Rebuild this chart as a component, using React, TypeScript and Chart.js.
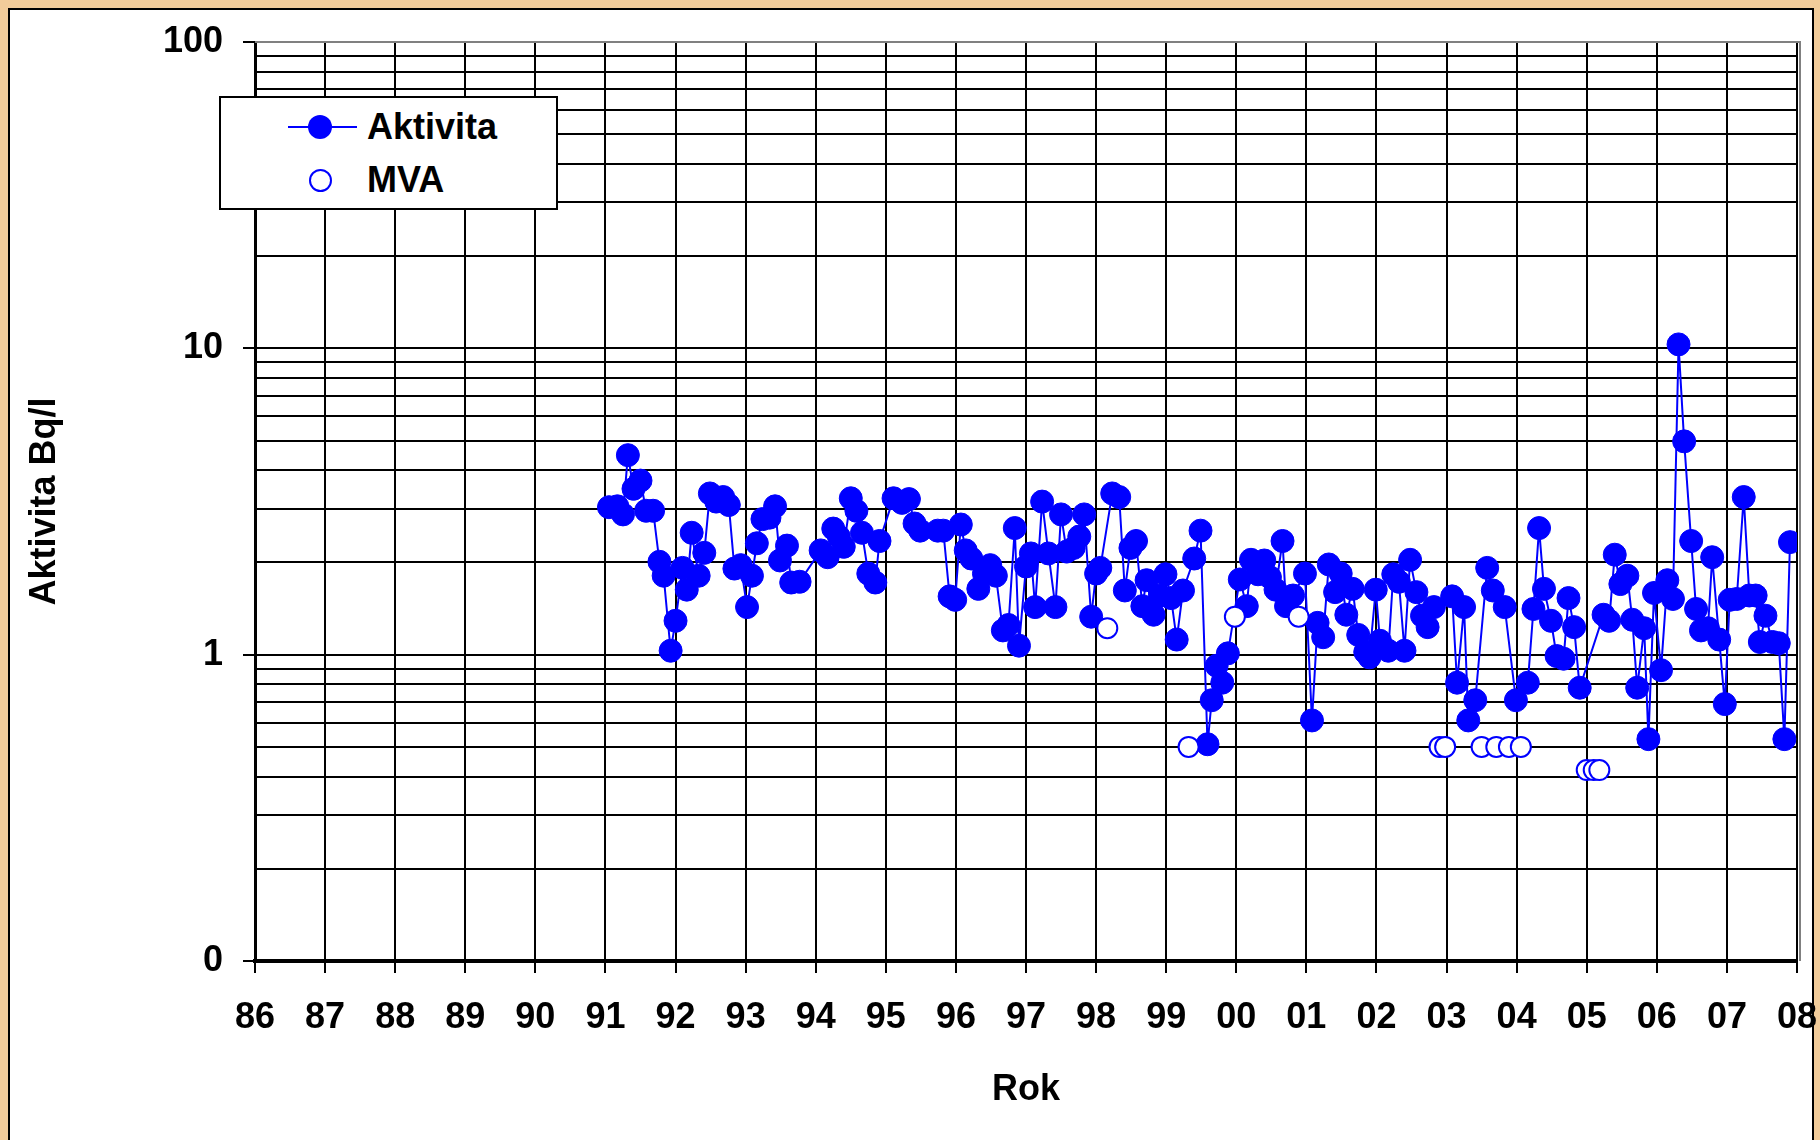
import React, { useEffect, useRef } from "react";
import { Chart, registerables } from "chart.js";

Chart.register(...registerables);

// Measurement times (year - 1900, decimal) and activity values (Bq/l)
const AKT_YEARS = [
  91.05, 91.17, 91.25, 91.32, 91.4, 91.5, 91.58, 91.68, 91.77, 91.83, 91.93,
  92.0, 92.1, 92.16, 92.23, 92.33, 92.41, 92.49, 92.58, 92.68, 92.76, 92.84, 92.93,
  93.02, 93.09, 93.16, 93.24, 93.34, 93.42, 93.49, 93.59, 93.65, 93.77,
  94.07, 94.17, 94.25, 94.33, 94.4, 94.5, 94.58, 94.66, 94.75, 94.85, 94.91,
  95.11, 95.23, 95.33, 95.41, 95.49, 95.74, 95.82, 95.91, 95.99,
  96.07, 96.14, 96.22, 96.32, 96.4, 96.49, 96.57, 96.67, 96.75, 96.84, 96.9,
  97.0, 97.07, 97.13, 97.23, 97.32, 97.42, 97.5, 97.58, 97.68, 97.76, 97.83, 97.93,
  98.0, 98.06, 98.23, 98.33, 98.41, 98.49, 98.57, 98.66, 98.72, 98.82, 98.91, 98.99,
  99.07, 99.15, 99.24, 99.4, 99.49, 99.59, 99.65, 99.72, 99.8, 99.88,
  100.05, 100.15, 100.21, 100.31, 100.4, 100.48, 100.56, 100.66, 100.71, 100.81, 100.98,
  101.08, 101.16, 101.24, 101.32, 101.41, 101.49, 101.57, 101.66, 101.74, 101.84, 101.9, 101.99,
  102.05, 102.17, 102.24, 102.32, 102.4, 102.48, 102.57, 102.65, 102.73, 102.82,
  103.08, 103.15, 103.25, 103.31, 103.41, 103.58, 103.66, 103.83, 103.99,
  104.16, 104.24, 104.32, 104.39, 104.49, 104.57, 104.67, 104.74, 104.82, 104.9,
  105.24, 105.32, 105.4, 105.48, 105.58, 105.65, 105.72, 105.82, 105.88, 105.96,
  106.06, 106.15, 106.23, 106.31, 106.39, 106.49, 106.56, 106.63, 106.73, 106.79, 106.89, 106.97,
  107.04, 107.14, 107.24, 107.32, 107.41, 107.47, 107.55, 107.65, 107.74, 107.82, 107.9,
];

const AKT_VALUES = [
  3.03, 3.05, 2.87, 4.48, 3.48, 3.7, 2.95, 2.95, 2.01, 1.81, 1.03,
  1.29, 1.92, 1.63, 2.5, 1.81, 2.15, 3.36, 3.16, 3.27, 3.08, 1.91, 1.96,
  1.43, 1.81, 2.31, 2.77, 2.8, 3.05, 2.03, 2.27, 1.72, 1.73,
  2.19, 2.08, 2.58, 2.43, 2.25, 3.24, 2.95, 2.5, 1.84, 1.72, 2.35,
  3.24, 3.13, 3.22, 2.68, 2.54, 2.54, 2.54, 1.55, 1.51,
  2.66, 2.19, 2.06, 1.64, 1.84, 1.96, 1.81, 1.2, 1.25, 2.59, 1.07,
  1.94, 2.14, 1.43, 3.16, 2.14, 1.43, 2.87, 2.17, 2.23, 2.43, 2.87, 1.33,
  1.84, 1.92, 3.36, 3.27, 1.62, 2.23, 2.35, 1.44, 1.75, 1.35, 1.56, 1.83,
  1.53, 1.12, 1.62, 2.06, 2.54, 0.51, 0.71, 0.92, 0.81, 1.01,
  1.76, 1.44, 2.04, 1.83, 2.03, 1.79, 1.63, 2.35, 1.44, 1.56, 1.84,
  0.61, 1.27, 1.14, 1.97, 1.6, 1.84, 1.35, 1.64, 1.16, 1.02, 0.98, 1.63,
  1.11, 1.03, 1.83, 1.73, 1.03, 2.04, 1.6, 1.34, 1.23, 1.43,
  1.55, 0.81, 1.43, 0.61, 0.71, 1.92, 1.62, 1.43, 0.71,
  0.81, 1.41, 2.59, 1.64, 1.29, 0.99, 0.97, 1.53, 1.23, 0.78,
  1.35, 1.29, 2.12, 1.7, 1.81, 1.3, 0.78, 1.22, 0.53, 1.59,
  0.89, 1.75, 1.52, 10.3, 4.97, 2.35, 1.41, 1.2, 1.22, 2.08, 1.12, 0.69,
  1.51, 1.52, 3.27, 1.56, 1.56, 1.1, 1.34, 1.1, 1.09, 0.53, 2.33,
];

// Minimum detectable activity samples
const MVA_YEARS = [98.16, 99.32, 99.98, 100.89, 102.9, 102.98, 103.5, 103.71, 103.89, 104.06, 105.0, 105.1, 105.18];
const MVA_VALUES = [1.22, 0.5, 1.33, 1.33, 0.5, 0.5, 0.5, 0.5, 0.5, 0.5, 0.42, 0.42, 0.42];

const X_TICKS = [86, 87, 88, 89, 90, 91, 92, 93, 94, 95, 96, 97, 98, 99, 100, 101, 102, 103, 104, 105, 106, 107, 108];
const X_TICK_LABELS = ["86", "87", "88", "89", "90", "91", "92", "93", "94", "95", "96", "97", "98", "99", "00", "01", "02", "03", "04", "05", "06", "07", "08"];

const Y_GRID = [
  0.1, 0.2, 0.3, 0.4, 0.5, 0.6, 0.7, 0.8, 0.9,
  1, 2, 3, 4, 5, 6, 7, 8, 9,
  10, 20, 30, 40, 50, 60, 70, 80, 90,
  100,
];
const Y_TICK_VALUES = [0.1, 1, 10, 100];
const Y_TICK_LABELS = ["0", "1", "10", "100"];

const FONT_FAMILY = "'Liberation Sans', Arial, Helvetica, sans-serif";
const BLUE = "#0000FF";

function yLabelFor(v: number): string {
  for (let i = 0; i < Y_TICK_VALUES.length; i++) {
    if (Math.abs(v - Y_TICK_VALUES[i]) < 1e-9) return Y_TICK_LABELS[i];
  }
  return "";
}

// draws the grey plot-area frame on top and right, like the original
const plotFramePlugin = {
  id: "plotFrame",
  afterDatasetsDraw(chart: any) {
    const { ctx, chartArea } = chart;
    ctx.save();
    ctx.strokeStyle = "#808080";
    ctx.lineWidth = 2;
    ctx.beginPath();
    ctx.moveTo(chartArea.left, chartArea.top);
    ctx.lineTo(chartArea.right + 3, chartArea.top);
    ctx.lineTo(chartArea.right + 3, chartArea.bottom);
    ctx.stroke();
    ctx.restore();
  },
};

export default function App() {
  const canvasRef = useRef<HTMLCanvasElement | null>(null);

  useEffect(() => {
    const canvas = canvasRef.current;
    if (!canvas) return;
    const aktData = AKT_YEARS.map((x, i) => ({ x, y: AKT_VALUES[i] }));
    const mvaData = MVA_YEARS.map((x, i) => ({ x, y: MVA_VALUES[i] }));

    const chart = new Chart(canvas, {
      type: "scatter",
      data: {
        datasets: [
          {
            label: "Aktivita",
            data: aktData,
            showLine: true,
            borderColor: BLUE,
            borderWidth: 2,
            backgroundColor: BLUE,
            pointBackgroundColor: BLUE,
            pointBorderColor: BLUE,
            pointBorderWidth: 1,
            pointRadius: 11.5,
            pointHoverRadius: 11.5,
            order: 1,
          },
          {
            label: "MVA",
            data: mvaData,
            showLine: false,
            borderColor: BLUE,
            backgroundColor: "#FFFFFF",
            pointBackgroundColor: "#FFFFFF",
            pointBorderColor: BLUE,
            pointBorderWidth: 2,
            pointRadius: 10,
            pointHoverRadius: 10,
            order: 0,
          },
        ],
      },
      options: {
        responsive: false,
        animation: false,
        events: [],
        layout: { padding: { left: 0, top: 42, right: 23, bottom: 0 } },
        plugins: {
          legend: { display: false },
          tooltip: { enabled: false },
        },
        scales: {
          x: {
            type: "linear",
            min: 86,
            max: 108,
            afterBuildTicks: (scale: any) => {
              scale.ticks = X_TICKS.map((v) => ({ value: v }));
            },
            afterFit: (scale: any) => {
              scale.height = 179;
              scale.paddingLeft = 0;
              scale.paddingRight = 0;
            },
            ticks: {
              autoSkip: false,
              maxRotation: 0,
              minRotation: 0,
              padding: 23,
              color: "#000",
              font: { family: FONT_FAMILY, size: 36, weight: "bold" },
              callback: (_v: any, index: number) => X_TICK_LABELS[index],
            },
            grid: {
              color: "#000",
              lineWidth: 2,
              drawTicks: true,
              tickLength: 12,
              tickWidth: 2,
              tickColor: "#000",
            },
            border: { display: true, color: "#000", width: 4 },
            title: {
              display: true,
              text: "Rok",
              color: "#000",
              font: { family: FONT_FAMILY, size: 36, weight: "bold" },
              padding: { top: 0, bottom: 28 },
            },
          },
          y: {
            type: "logarithmic",
            min: 0.1,
            max: 100,
            afterBuildTicks: (scale: any) => {
              scale.ticks = Y_GRID.map((v) => ({ value: v }));
            },
            afterFit: (scale: any) => {
              scale.width = 255;
              scale.paddingTop = 0;
              scale.paddingBottom = 0;
            },
            ticks: {
              autoSkip: false,
              padding: 20,
              color: "#000",
              font: { family: FONT_FAMILY, size: 36, weight: "bold" },
              callback: (v: any) => yLabelFor(Number(v)),
            },
            grid: {
              color: (ctx: any) =>
                ctx.tick && Math.abs(ctx.tick.value - 100) < 1e-9 ? "#808080" : "#000",
              lineWidth: 2,
              drawTicks: true,
              tickLength: 12,
              tickWidth: 2,
              tickColor: (ctx: any) =>
                ctx.tick && yLabelFor(ctx.tick.value) !== "" ? "#000" : "rgba(0,0,0,0)",
            },
            border: { display: true, color: "#000", width: 3 },
            title: {
              display: true,
              text: "Aktivita Bq/l",
              color: "#000",
              font: { family: FONT_FAMILY, size: 36, weight: "bold" },
              padding: { top: 23, bottom: 0 },
            },
          },
        },
      },
      plugins: [plotFramePlugin],
    } as any);

    return () => {
      chart.destroy();
    };
  }, []);

  const legendText: React.CSSProperties = {
    position: "absolute",
    left: 146,
    height: 42,
    lineHeight: "42px",
    fontFamily: FONT_FAMILY,
    fontWeight: "bold",
    fontSize: 36,
    color: "#000",
    whiteSpace: "nowrap",
  };

  return (
    <div
      style={{
        position: "fixed",
        left: 0,
        top: 0,
        width: 1820,
        height: 1140,
        background: "#F2CC9A",
        overflow: "hidden",
      }}
    >
      <div
        style={{
          position: "absolute",
          left: 8,
          top: 8,
          width: 1806,
          height: 1200,
          background: "#FFFFFF",
          border: "2px solid #000",
          boxSizing: "border-box",
        }}
      />
      <canvas
        ref={canvasRef}
        width={1820}
        height={1140}
        style={{ position: "absolute", left: 0, top: 0, width: 1820, height: 1140 }}
      />
      <div
        style={{
          position: "absolute",
          left: 219,
          top: 96,
          width: 339,
          height: 114,
          boxSizing: "border-box",
          border: "2px solid #000",
          background: "#FFFFFF",
        }}
      >
        <div style={{ position: "absolute", left: 67, top: 28, width: 69, height: 2, background: BLUE }} />
        <div
          style={{
            position: "absolute",
            left: 87,
            top: 17,
            width: 24,
            height: 24,
            borderRadius: "50%",
            background: BLUE,
          }}
        />
        <div style={{ ...legendText, top: 8 }}>Aktivita</div>
        <div
          style={{
            position: "absolute",
            left: 88,
            top: 71,
            width: 23,
            height: 23,
            borderRadius: "50%",
            background: "#FFFFFF",
            border: "2px solid " + BLUE,
            boxSizing: "border-box",
          }}
        />
        <div style={{ ...legendText, top: 61 }}>MVA</div>
      </div>
    </div>
  );
}
